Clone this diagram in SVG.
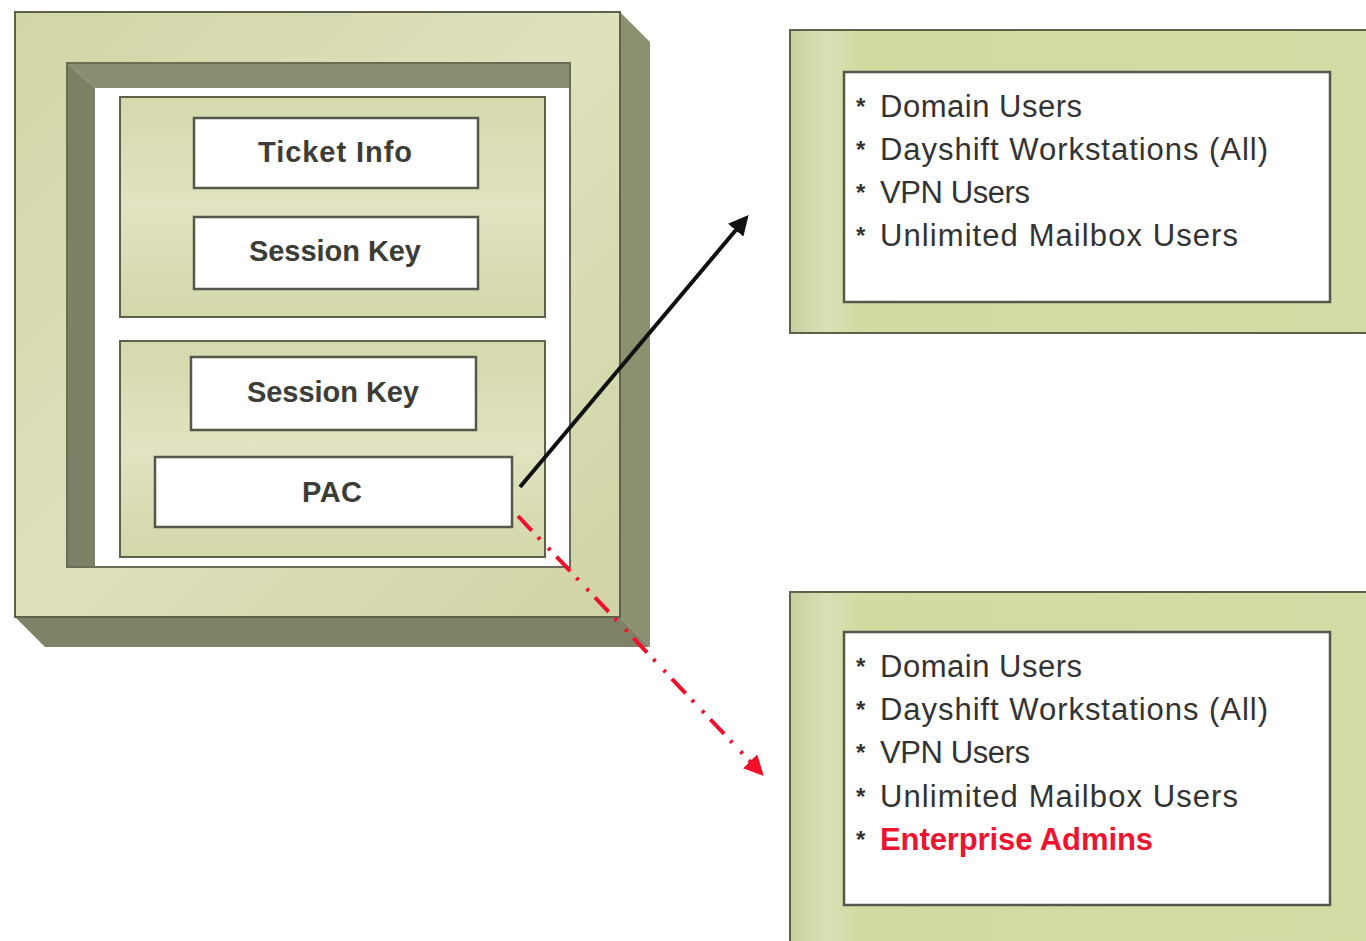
<svg xmlns="http://www.w3.org/2000/svg" width="1366" height="941" viewBox="0 0 1366 941">
  <defs>
    <linearGradient id="olive" x1="0" y1="0" x2="1" y2="1">
      <stop offset="0" stop-color="#d2d5a6"/>
      <stop offset="0.5" stop-color="#dfe1bd"/>
      <stop offset="1" stop-color="#d0d3a4"/>
    </linearGradient>
    <linearGradient id="olivePanel" x1="0" y1="0" x2="0" y2="1">
      <stop offset="0" stop-color="#d6d9ac"/>
      <stop offset="0.5" stop-color="#e1e3c2"/>
      <stop offset="1" stop-color="#d4d7a9"/>
    </linearGradient>
    <linearGradient id="greenPanel" x1="0" y1="0" x2="1" y2="0">
      <stop offset="0" stop-color="#c9cf9e"/>
      <stop offset="0.06" stop-color="#dadfb6"/>
      <stop offset="0.12" stop-color="#d2daa2"/>
      <stop offset="1" stop-color="#d4dba6"/>
    </linearGradient>
    <marker id="arrowBlack" viewBox="0 0 10 10" refX="8" refY="5" markerWidth="5" markerHeight="5" orient="auto" markerUnits="strokeWidth">
      <path d="M0,0 L10,5 L0,10 z" fill="#111"/>
    </marker>
    <marker id="arrowRed" viewBox="0 0 10 10" refX="8" refY="5" markerWidth="5" markerHeight="5" orient="auto" markerUnits="strokeWidth">
      <path d="M0,0 L10,5 L0,10 z" fill="#f0102a"/>
    </marker>
  </defs>
  <style>
    .edge { stroke: #5f614b; stroke-width: 2; }
    .field { fill: #ffffff; stroke: #55574a; stroke-width: 2.5; }
    .label { font-family: "Liberation Sans", Arial, sans-serif; font-weight: bold; font-size: 29px; fill: #3b3d36; text-anchor: middle; }
    .item { font-family: "Liberation Sans", Arial, sans-serif; font-size: 31px; fill: #333333; }
    .bullet { font-family: "Liberation Sans", Arial, sans-serif; font-weight: bold; font-size: 24px; fill: #333333; }
    .alert { fill: #ee1430; font-weight: bold; }
  </style>

  <rect width="1366" height="941" fill="#ffffff"/>

  <!-- Service ticket: raised 3D frame with a sunken white well -->
  <g id="ticket">
    <polygon points="620,12 650,42 650,647 620,617" fill="#8c8f70"/>
    <polygon points="15,617 620,617 650,647 45,647" fill="#7f8266"/>
    <rect x="15" y="12" width="605" height="605" fill="url(#olive)" class="edge"/>
    <!-- sunken well -->
    <rect x="67" y="63" width="503" height="504" fill="#ffffff"/>
    <polygon points="67,63 570,63 570,88 95,88" fill="#8a8d6f"/>
    <polygon points="67,63 95,88 95,567 67,567" fill="#7d8064"/>
    <rect x="67" y="63" width="503" height="504" fill="none" stroke="#6a6c55" stroke-width="2"/>
  </g>

  <g id="encrypted-part">
    <rect x="120" y="97" width="425" height="220" fill="url(#olivePanel)" class="edge"/>
    <g id="ticket-info">
      <rect x="194" y="118" width="284" height="70" class="field"/>
      <text x="335" y="162" class="label" textLength="154">Ticket Info</text>
    </g>
    <g id="session-key-1">
      <rect x="194" y="217" width="284" height="72" class="field"/>
      <text x="335" y="261" class="label" textLength="172">Session Key</text>
    </g>
  </g>

  <g id="authorization-part">
    <rect x="120" y="341" width="425" height="216" fill="url(#olivePanel)" class="edge"/>
    <g id="session-key-2">
      <rect x="191" y="357" width="285" height="73" class="field"/>
      <text x="333" y="402" class="label" textLength="172">Session Key</text>
    </g>
    <g id="pac">
      <rect x="155" y="457" width="357" height="70" class="field"/>
      <text x="332" y="502" class="label" textLength="60">PAC</text>
    </g>
  </g>

  <!-- Group memberships carried in the original PAC -->
  <g id="groups-original">
    <rect x="790" y="30" width="590" height="303" fill="url(#greenPanel)" class="edge"/>
    <rect x="844" y="72" width="486" height="230" class="field"/>
    <text x="856" y="115" class="bullet">*</text>
    <text x="880" y="117" class="item" textLength="202">Domain Users</text>
    <text x="856" y="158" class="bullet">*</text>
    <text x="880" y="160" class="item" textLength="388">Dayshift Workstations (All)</text>
    <text x="856" y="201" class="bullet">*</text>
    <text x="880" y="203" class="item" textLength="150">VPN Users</text>
    <text x="856" y="244" class="bullet">*</text>
    <text x="880" y="246" class="item" textLength="358">Unlimited Mailbox Users</text>
  </g>

  <!-- Group memberships in the tampered PAC -->
  <g id="groups-forged">
    <rect x="790" y="592" width="590" height="360" fill="url(#greenPanel)" class="edge"/>
    <rect x="844" y="632" width="486" height="273" class="field"/>
    <text x="856" y="675" class="bullet">*</text>
    <text x="880" y="677" class="item" textLength="202">Domain Users</text>
    <text x="856" y="718" class="bullet">*</text>
    <text x="880" y="720" class="item" textLength="388">Dayshift Workstations (All)</text>
    <text x="856" y="761" class="bullet">*</text>
    <text x="880" y="763" class="item" textLength="150">VPN Users</text>
    <text x="856" y="805" class="bullet">*</text>
    <text x="880" y="807" class="item" textLength="358">Unlimited Mailbox Users</text>
    <text x="856" y="848" class="bullet">*</text>
    <text x="880" y="850" class="item alert" textLength="273">Enterprise Admins</text>
  </g>

  <g id="connectors">
    <line x1="520" y1="487" x2="746" y2="218" stroke="#111" stroke-width="4" marker-end="url(#arrowBlack)"/>
    <line x1="518" y1="516" x2="761" y2="773" stroke="#f0102a" stroke-width="4" stroke-dasharray="20 9 3 12 3 9" marker-end="url(#arrowRed)"/>
  </g>
</svg>
